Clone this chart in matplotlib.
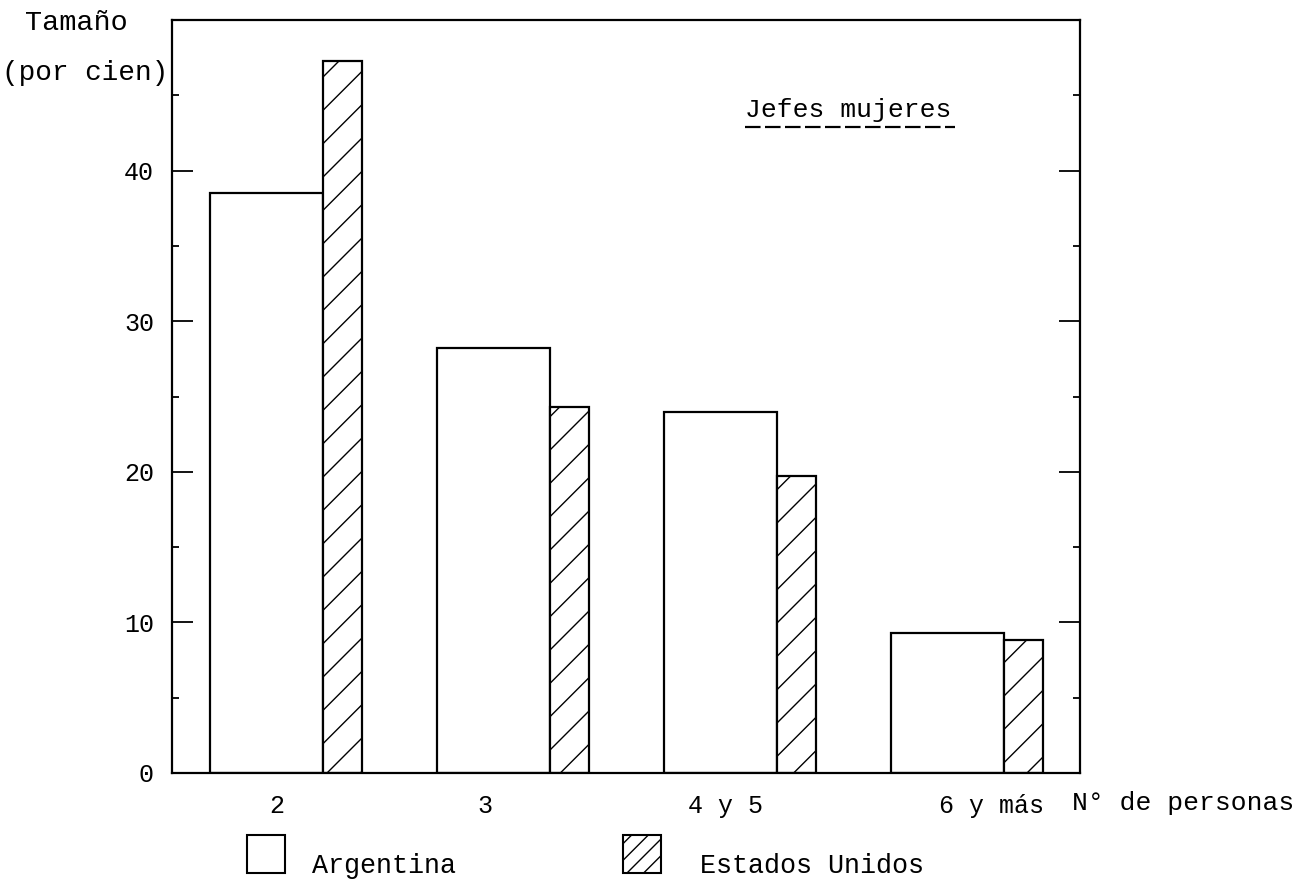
import matplotlib.pyplot as plt
import numpy as np
from matplotlib.patches import Rectangle
from matplotlib.lines import Line2D

# data (per cent of households headed by women)
categorias = ['2', '3', '4 y 5', '6 y más']
argentina = [38.5, 28.2, 24.0, 9.3]
estados_unidos = [47.3, 24.3, 19.7, 8.8]
ticks_y = [0, 10, 20, 30, 40]

plt.rcParams['font.family'] = ['Liberation Mono', 'DejaVu Sans Mono']
plt.rcParams['hatch.linewidth'] = 1.0

fig = plt.figure(figsize=(13.06, 8.84), dpi=100)
W, H = 1306.0, 884.0
ax = fig.add_axes([172 / W, 1 - 773 / H, (1080 - 172) / W, (773 - 20) / H])

x = np.arange(len(categorias))
ax.bar(x + 0.167, argentina, width=0.498, align='edge',
       facecolor='white', edgecolor='black', linewidth=1.6)
ax.bar(x + 0.665, estados_unidos, width=0.172, align='edge',
       facecolor='white', edgecolor='black', linewidth=1.6, hatch='/')

ax.set_xlim(0, 4)
ax.set_ylim(0, 50)

# category labels sit where the typist put them
desplaz = [0.46, 0.38, 0.44, 0.61]
ax.set_xticks(x + np.array(desplaz))
ax.set_xticklabels(categorias, fontsize=18)
ax.tick_params(axis='x', length=0, pad=15)

ax.set_yticks(ticks_y)
ax.set_yticks(np.arange(5, 50, 10), minor=True)
ax.tick_params(axis='y', which='major', direction='in', length=15, width=1.3,
               right=True, labelsize=18, pad=13)
ax.tick_params(axis='y', which='minor', direction='in', length=5, width=1.3,
               right=True)
for s in ax.spines.values():
    s.set_linewidth(1.6)

# axis titles
fig.text(25 / W, 1 - 23 / H, 'Tamaño', fontsize=20.5, va='center', ha='left')
fig.text(2 / W, 1 - 73 / H, '(por cien)', fontsize=20, va='center', ha='left')
fig.text(1072 / W, 1 - 803 / H, 'N° de personas', fontsize=19,
         va='center', ha='left')

# inner title with dashed underline
fig.text(745 / W, 1 - 110 / H, 'Jefes mujeres', fontsize=19,
         va='center', ha='left')
fig.add_artist(Line2D([745 / W, 955 / W], [1 - 127 / H, 1 - 127 / H],
                      color='black', linewidth=1.6, dashes=(7, 2)))

# legend drawn by hand below the axis
for bx, hatch, txt, tx in [(247, None, 'Argentina', 312),
                           (623, '//', 'Estados Unidos', 700)]:
    fig.add_artist(Rectangle((bx / W, 1 - 873 / H), 38 / W, 38 / H,
                             facecolor='white', edgecolor='black',
                             linewidth=1.5, hatch=hatch,
                             transform=fig.transFigure))
    fig.text(tx / W, 1 - 866 / H, txt, fontsize=19.3, va='center', ha='left')

fig.savefig('out.png', dpi=100)
